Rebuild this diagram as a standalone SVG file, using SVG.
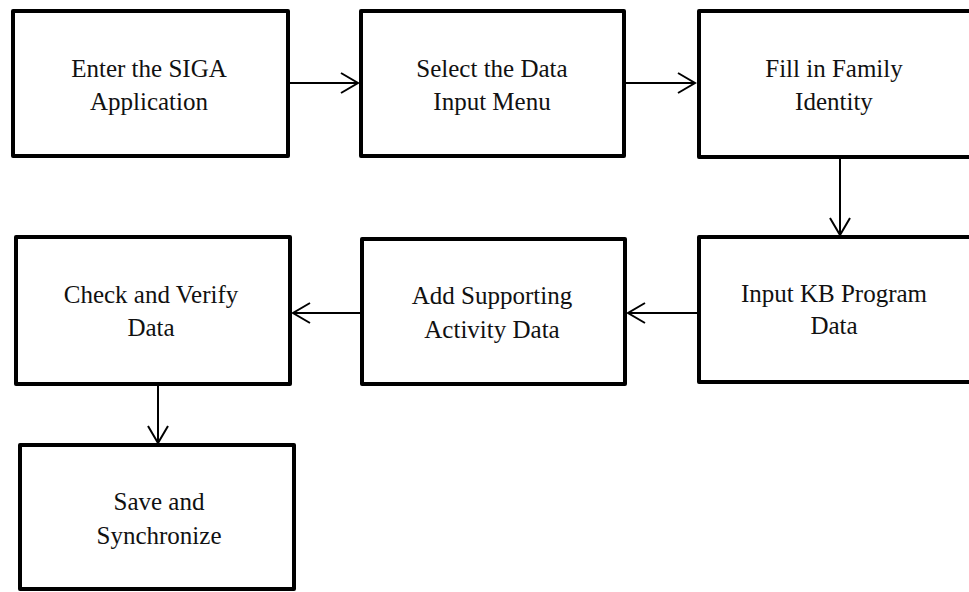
<svg xmlns="http://www.w3.org/2000/svg" width="969" height="592" viewBox="0 0 969 592">
<style>
.box{fill:#fff;stroke:#000;stroke-width:4;stroke-linejoin:round}
.lbl{font-family:"Liberation Serif","Times New Roman",serif;font-size:25px;fill:#111;text-anchor:middle}
.conn{stroke:#000;stroke-width:2;fill:none}
</style>
<defs>
<marker id="arr" markerUnits="userSpaceOnUse" markerWidth="24" markerHeight="26" viewBox="-20 -13 24 26" refX="0" refY="0" orient="auto">
<path d="M -17 -10 L 0 0 L -17 10" fill="none" stroke="#000" stroke-width="2"/>
</marker>
</defs>
<rect width="969" height="592" fill="#fff"/>
<g id="connectors">
<line class="conn" x1="290" y1="83" x2="358" y2="83" marker-end="url(#arr)"/>
<line class="conn" x1="626" y1="83" x2="695" y2="83" marker-end="url(#arr)"/>
<line class="conn" x1="840" y1="159" x2="840" y2="235" marker-end="url(#arr)"/>
<line class="conn" x1="697" y1="313" x2="628" y2="313" marker-end="url(#arr)"/>
<line class="conn" x1="360" y1="313" x2="293" y2="313" marker-end="url(#arr)"/>
<line class="conn" x1="158" y1="386" x2="158" y2="443" marker-end="url(#arr)"/>
</g>
<g id="n1">
<rect class="box" x="13" y="11" width="275" height="145"/>
<text class="lbl" x="149" y="77">Enter the SIGA</text>
<text class="lbl" x="149" y="110">Application</text>
</g>
<g id="n2">
<rect class="box" x="361" y="11" width="263" height="145"/>
<text class="lbl" x="492" y="77">Select the Data</text>
<text class="lbl" x="492" y="110">Input Menu</text>
</g>
<g id="n3">
<rect class="box" x="699" y="11" width="300" height="146"/>
<text class="lbl" x="834" y="77">Fill in Family</text>
<text class="lbl" x="834" y="110">Identity</text>
</g>
<g id="n4">
<rect class="box" x="699" y="237" width="300" height="145"/>
<text class="lbl" x="834" y="302">Input KB Program</text>
<text class="lbl" x="834" y="334">Data</text>
</g>
<g id="n5">
<rect class="box" x="362" y="239" width="263" height="145"/>
<text class="lbl" x="492" y="304">Add Supporting</text>
<text class="lbl" x="492" y="338">Activity Data</text>
</g>
<g id="n6">
<rect class="box" x="16" y="237" width="274" height="147"/>
<text class="lbl" x="151" y="303">Check and Verify</text>
<text class="lbl" x="151" y="336">Data</text>
</g>
<g id="n7">
<rect class="box" x="20" y="445" width="274" height="144"/>
<text class="lbl" x="159" y="510">Save and</text>
<text class="lbl" x="159" y="544">Synchronize</text>
</g>
</svg>
